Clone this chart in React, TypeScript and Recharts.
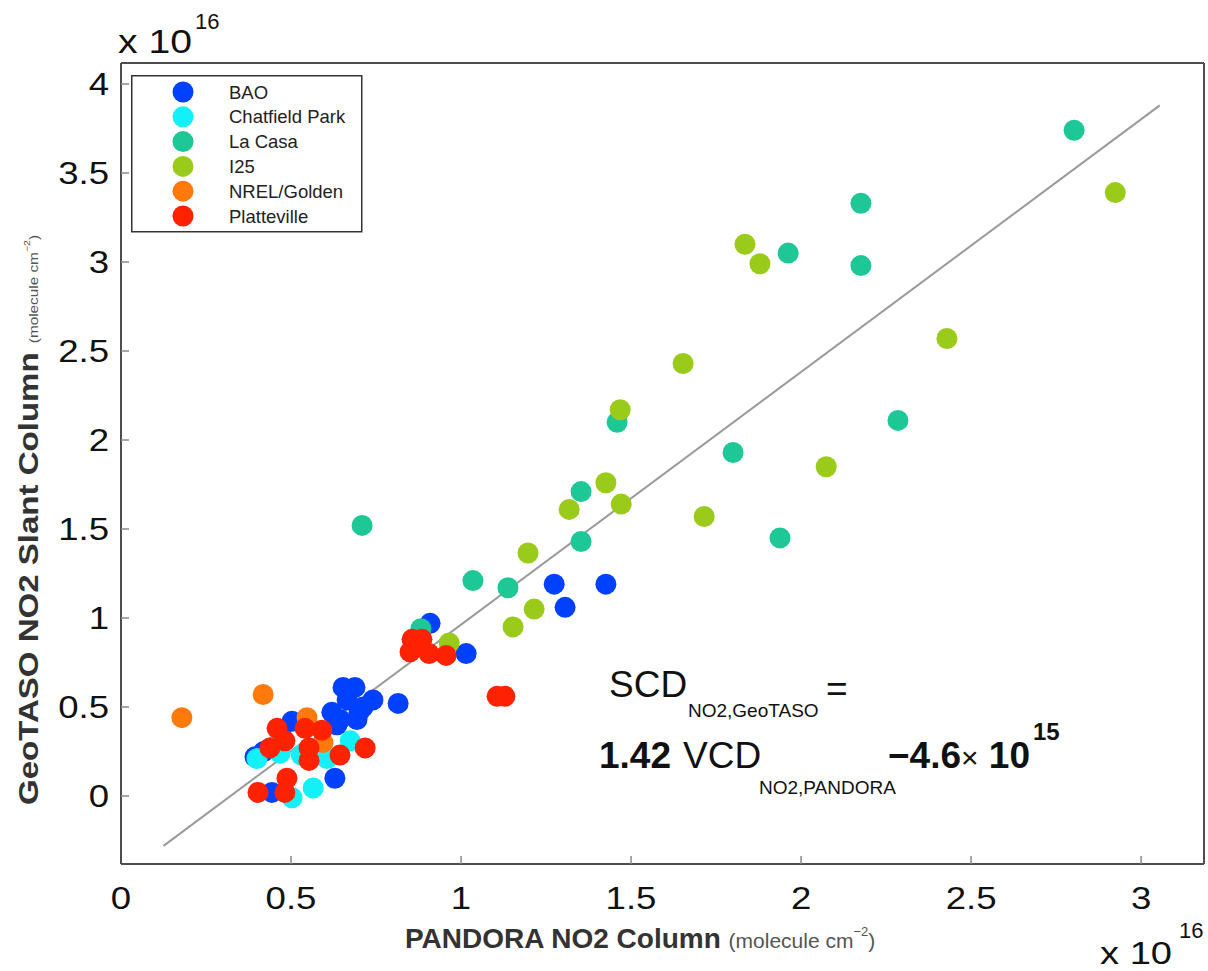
import { ScatterChart, Scatter, XAxis, YAxis, Legend, Customized } from "recharts";

const FONT = "'Liberation Sans', Arial, Helvetica, sans-serif";

// values in units of 1e16 molecule cm^-2
const bao: [number, number][] = [
  [0.653, 0.61], [0.688, 0.61], [0.665, 0.54], [0.741, 0.54], [0.712, 0.5],
  [0.815, 0.52], [0.62, 0.47], [0.7, 0.47], [0.644, 0.43], [0.694, 0.43],
  [0.635, 0.4], [0.503, 0.42], [0.47, 0.35], [0.394, 0.22], [0.42, 0.25],
  [0.444, 0.02], [0.629, 0.1], [0.909, 0.97], [1.015, 0.8], [1.274, 1.19],
  [1.306, 1.06], [1.426, 1.19],
];
const chatfield: [number, number][] = [
  [0.4, 0.21], [0.468, 0.24], [0.53, 0.23], [0.606, 0.21], [0.674, 0.31],
  [0.565, 0.045], [0.503, -0.01], [0.45, 0.28],
];
const laCasa: [number, number][] = [
  [2.803, 3.74], [2.176, 3.33], [2.176, 2.98], [1.962, 3.05], [2.285, 2.11],
  [1.8, 1.93], [1.459, 2.1], [1.353, 1.71], [1.353, 1.43], [1.938, 1.45],
  [1.138, 1.17], [1.035, 1.21], [0.709, 1.52], [0.882, 0.94],
];
const i25: [number, number][] = [
  [2.924, 3.39], [1.835, 3.1], [1.879, 2.99], [1.653, 2.43], [1.468, 2.17],
  [2.429, 2.57], [2.074, 1.85], [1.715, 1.57], [1.426, 1.76], [1.471, 1.64],
  [1.318, 1.61], [1.197, 1.365], [1.215, 1.05], [1.153, 0.95], [0.965, 0.86],
];
const nrel: [number, number][] = [
  [0.179, 0.44], [0.418, 0.57], [0.547, 0.44], [0.594, 0.3],
];
const platteville: [number, number][] = [
  [0.459, 0.38], [0.482, 0.31], [0.541, 0.38], [0.591, 0.37], [0.438, 0.27],
  [0.553, 0.27], [0.553, 0.2], [0.644, 0.23], [0.718, 0.27], [0.403, 0.02],
  [0.488, 0.1], [0.482, 0.02], [0.856, 0.88], [0.885, 0.88], [0.85, 0.81],
  [0.906, 0.8], [0.956, 0.79], [1.106, 0.56], [1.129, 0.56],
];
const fitLine: [number, number][] = [[0.125, -0.28], [3.055, 3.88]];

const seriesNames = ["BAO", "Chatfield Park", "La Casa", "I25", "NREL/Golden", "Platteville"];
const seriesData = [bao, chatfield, laCasa, i25, nrel, platteville];
const seriesColors = ["#0040ff", "#12f0f8", "#1ec896", "#9acb1a", "#ff7a0a", "#ff2200"];

const xTicks = [0, 0.5, 1, 1.5, 2, 2.5, 3];
const yTicks = [0, 0.5, 1, 1.5, 2, 2.5, 3, 3.5, 4];

const toPts = (arr: [number, number][]) => arr.map(([x, y]) => ({ x, y }));

const dot = (color: string) => (p: any) => <circle cx={p.cx} cy={p.cy} r={10.5} fill={color} />;

const XTick = (p: any) => {
  const { x, y, payload } = p;
  return (
    <text x={x} y={y} textAnchor="middle" fontSize={31} fontFamily={FONT} fill="#111"
      transform={`translate(${x} ${y}) scale(1.18 1) translate(${-x} ${-y})`}>
      {payload.value}
    </text>
  );
};

const YTick = (p: any) => {
  const { x, y, payload } = p;
  return (
    <text x={x} y={y + 11} textAnchor="end" fontSize={31} fontFamily={FONT} fill="#111"
      transform={`translate(${x} ${y}) scale(1.18 1) translate(${-x} ${-y})`}>
      {payload.value}
    </text>
  );
};

const renderLegend = () => (
  <svg width={232} height={158} style={{ display: "block" }}>
    <rect x={0.75} y={0.75} width={230} height={156} fill="#fff" stroke="#333" strokeWidth={1.5} />
    {seriesNames.map((n, i) => (
      <g key={n}>
        <circle cx={52} cy={17 + i * 24.8} r={10.5} fill={seriesColors[i]} />
        <text x={98} y={17 + i * 24.8 + 6.5} fontSize={18.5} fontFamily={FONT} fill="#222">{n}</text>
      </g>
    ))}
  </svg>
);

const Annotations = () => (
  <g fontFamily={FONT} fill="#111">
    <text x={118} y={53} fontSize={33} textLength={74} lengthAdjust="spacingAndGlyphs">x 10</text>
    <text x={195} y={29} fontSize={22}>16</text>
    <text x={1100} y={964} fontSize={32} textLength={72} lengthAdjust="spacingAndGlyphs">x 10</text>
    <text x={1179} y={938} fontSize={22}>16</text>

    <text x={405} y={948}>
      <tspan fontSize={28} fontWeight="bold" fill="#333">PANDORA NO2 Column </tspan>
      <tspan fontSize={21} fill="#555">(molecule cm</tspan>
      <tspan fontSize={13} dy={-12} fill="#555">−2</tspan>
      <tspan fontSize={21} dy={12} fill="#555">)</tspan>
    </text>

    <text transform="rotate(-90) scale(1.18 1)" x={-805 / 1.18} y={38}>
      <tspan fontSize={28} fontWeight="bold" fill="#333">GeoTASO NO2 Slant Column </tspan>
      <tspan fontSize={13} fill="#555">(molecule cm</tspan>
      <tspan fontSize={9} dy={-8} fill="#555">−2</tspan>
      <tspan fontSize={13} dy={8} fill="#555">)</tspan>
    </text>

    <text x={609} y={697} fontSize={37}>SCD</text>
    <text x={688} y={717} fontSize={19}>NO2,GeoTASO</text>
    <text x={826} y={701} fontSize={37}>=</text>
    <text x={599} y={768} fontSize={37} fontWeight="bold">1.42</text>
    <text x={683} y={768} fontSize={37}>VCD</text>
    <text x={759} y={794} fontSize={19}>NO2,PANDORA</text>
    <text x={888} y={768} fontSize={37} fontWeight="bold">
      −4.6<tspan fontWeight="normal" fontSize={30}>×</tspan> 10
    </text>
    <text x={1033} y={740} fontSize={24} fontWeight="bold">15</text>
  </g>
);

const axisLine = { stroke: "#4d4d4d", strokeWidth: 2 };
const tickLine = { stroke: "#8a8a8a", strokeWidth: 1.5 };
const xDomain = [0, 3.185];
const yDomain = [-0.382, 4.118];

export default function App() {
  return (
    <div style={{ position: "absolute", left: 0, top: 0, background: "#fff" }}>
      <ScatterChart width={1208} height={971} margin={{ top: 62, right: 3, bottom: 106, left: 120 }}>
        <XAxis xAxisId="b" type="number" dataKey="x" domain={xDomain} ticks={xTicks} allowDataOverflow
          height={1} tickSize={-8} tickMargin={53} axisLine={axisLine} tickLine={tickLine} tick={<XTick />} />
        <XAxis xAxisId="t" orientation="top" type="number" domain={xDomain} ticks={xTicks} allowDataOverflow
          height={1} tickSize={-8} axisLine={axisLine} tickLine={tickLine} tick={false} />
        <YAxis yAxisId="l" type="number" dataKey="y" domain={yDomain} ticks={yTicks} allowDataOverflow
          width={1} tickSize={-8} tickMargin={20} axisLine={axisLine} tickLine={tickLine} tick={<YTick />} />
        <YAxis yAxisId="r" orientation="right" type="number" domain={yDomain} ticks={yTicks} allowDataOverflow
          width={1} tickSize={-8} axisLine={axisLine} tickLine={tickLine} tick={false} />

        <Scatter xAxisId="b" yAxisId="l" data={toPts(fitLine)} line={{ stroke: "#9a9a9a", strokeWidth: 2 }}
          shape={() => <g />} isAnimationActive={false} />
        {seriesData.map((d, i) => (
          <Scatter key={seriesNames[i]} name={seriesNames[i]} xAxisId="b" yAxisId="l" data={toPts(d)}
            fill={seriesColors[i]} shape={dot(seriesColors[i])} isAnimationActive={false} />
        ))}

        <Legend layout="vertical" align="center" verticalAlign="middle" content={renderLegend}
          wrapperStyle={{ left: 131, top: 75, width: 232, height: 158 }} />
        <Customized component={Annotations} />
      </ScatterChart>
    </div>
  );
}
